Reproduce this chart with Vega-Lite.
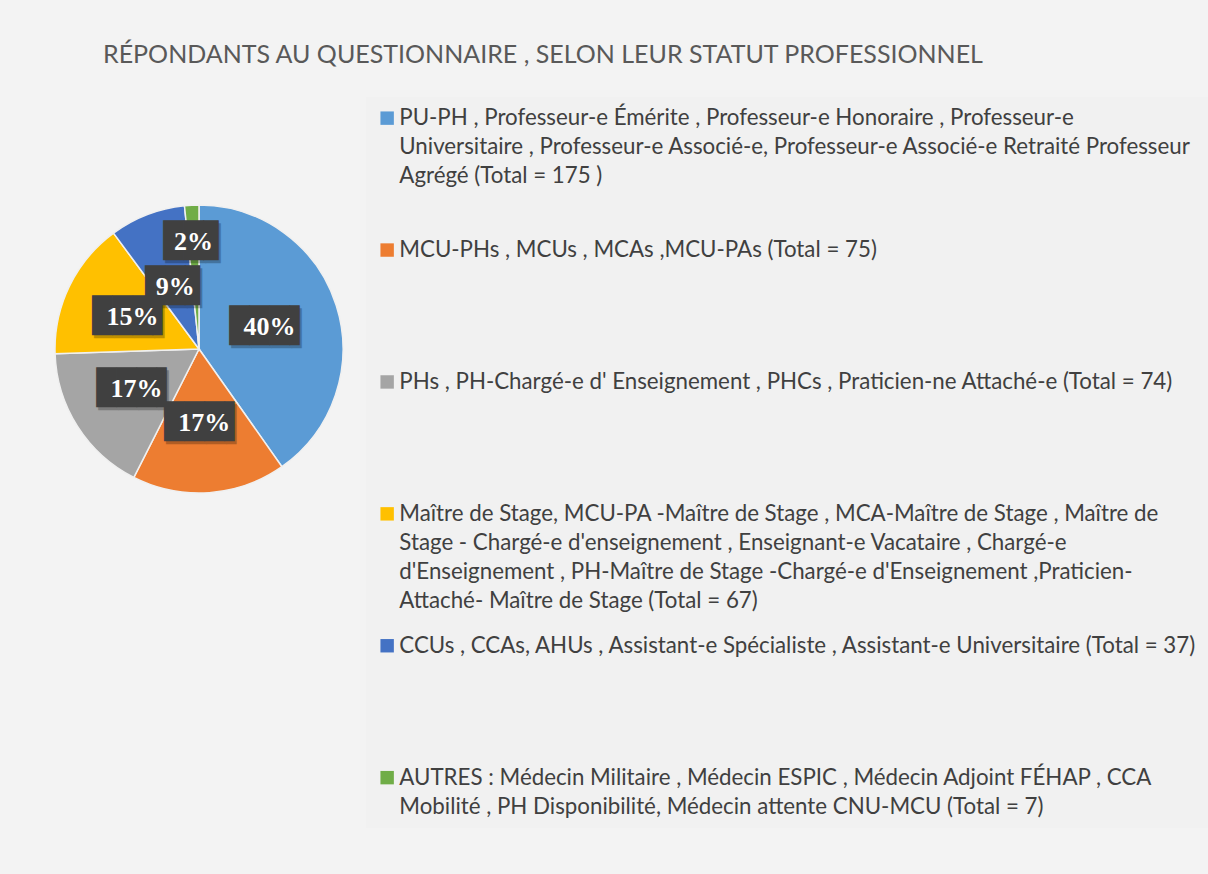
{
  "$schema": "https://vega.github.io/schema/vega-lite/v6.json",
  "width": 288,
  "height": 288,
  "autosize": {"type": "none"},
  "padding": {"left": 55, "top": 205, "right": 865, "bottom": 381},
  "background": "#f3f3f3",
  "title": {
    "text": "RÉPONDANTS AU QUESTIONNAIRE , SELON LEUR STATUT PROFESSIONNEL",
    "anchor": "start",
    "frame": "group",
    "dx": 48,
    "offset": 9,
    "baseline": "alphabetic",
    "font": "Lato",
    "fontSize": 25,
    "fontWeight": "normal",
    "color": "#595959"
  },
  "data": {
    "values": [
      {"cat": "PU-PH  , Professeur-e Émérite  , Professeur-e Honoraire , Professeur-e|Universitaire , Professeur-e Associé-e, Professeur-e Associé-e Retraité Professeur|Agrégé  (Total = 175 )", "n": 175, "pct": "40%"},
      {"cat": "MCU-PHs , MCUs , MCAs ,MCU-PAs (Total = 75)", "n": 75, "pct": "17%"},
      {"cat": "PHs , PH-Chargé-e d' Enseignement  , PHCs , Praticien-ne Attaché-e (Total = 74)", "n": 74, "pct": "17%"},
      {"cat": "Maître de Stage, MCU-PA -Maître de Stage , MCA-Maître de Stage , Maître de|Stage - Chargé-e d'enseignement  , Enseignant-e Vacataire , Chargé-e|d'Enseignement , PH-Maître de Stage -Chargé-e d'Enseignement  ,Praticien-|Attaché- Maître de Stage (Total = 67)", "n": 67, "pct": "15%"},
      {"cat": "CCUs , CCAs, AHUs ,  Assistant-e Spécialiste  , Assistant-e Universitaire (Total = 37)", "n": 37, "pct": "9%"},
      {"cat": "AUTRES : Médecin Militaire , Médecin ESPIC , Médecin Adjoint FÉHAP , CCA|Mobilité , PH Disponibilité, Médecin attente CNU-MCU (Total = 7)", "n": 7, "pct": "2%"}
    ]
  },
  "encoding": {
    "theta": {"field": "n", "type": "quantitative", "stack": true},
    "order": {"field": "n", "type": "quantitative", "sort": "descending"}
  },
  "layer": [
    {
      "mark": {"type": "arc", "stroke": "#f0f0f0", "strokeWidth": 1.5},
      "encoding": {
        "color": {
          "field": "cat",
          "type": "nominal",
          "sort": null,
          "scale": {"range": ["#5B9BD5", "#ED7D31", "#A5A5A5", "#FFC000", "#4472C4", "#70AD47"]},
          "legend": {
            "orient": "none",
            "legendX": 311,
            "legendY": -108,
            "title": null,
            "symbolType": "square",
            "symbolSize": 180,
            "symbolStrokeWidth": 0,
            "labelFont": "Lato",
            "labelFontSize": 22.3,
            "labelColor": "#404040",
            "labelLimit": 1000,
            "labelExpr": "split(datum.label, '|')",
            "labelBaseline": "alphabetic",
            "labelOffset": 1,
            "gridAlign": "all",
            "rowPadding": 21.9,
            "padding": 10,
            "fillColor": "#f1f1f1"
          }
        }
      }
    },
    {
      "mark": {
        "type": "text",
        "font": "DejaVu Sans Mono",
        "fontSize": 33.5,
        "align": "center",
        "baseline": "middle",
        "dx": 2,
        "dy": 3,
        "opacity": 0.25,
        "radius": {"expr": "datum.n < 10 ? 107 : datum.n < 50 ? 66 : 74"},
        "text": {"expr": "length(datum.pct) > 2 ? '███▌' : '██▊'"}
      },
      "encoding": {"detail": {"field": "cat"}, "color": {"value": "#000000"}}
    },
    {
      "mark": {
        "type": "text",
        "font": "DejaVu Sans Mono",
        "fontSize": 33.5,
        "align": "center",
        "baseline": "middle",
        "radius": {"expr": "datum.n < 10 ? 107 : datum.n < 50 ? 66 : 74"},
        "text": {"expr": "length(datum.pct) > 2 ? '███▌' : '██▊'"}
      },
      "encoding": {"detail": {"field": "cat"}, "color": {"value": "#404040"}}
    },
    {
      "mark": {
        "type": "text",
        "font": "Liberation Serif",
        "fontSize": 26,
        "fontWeight": "bold",
        "align": "center",
        "baseline": "middle",
        "radius": {"expr": "datum.n < 10 ? 107 : datum.n < 50 ? 66 : 74"}
      },
      "encoding": {"detail": {"field": "cat"}, "text": {"field": "pct"}, "color": {"value": "#ffffff"}}
    }
  ],
  "config": {
    "view": {"stroke": null},
    "style": {"guide-label": {"lineHeight": 29, "dy": 7}}
  }
}
